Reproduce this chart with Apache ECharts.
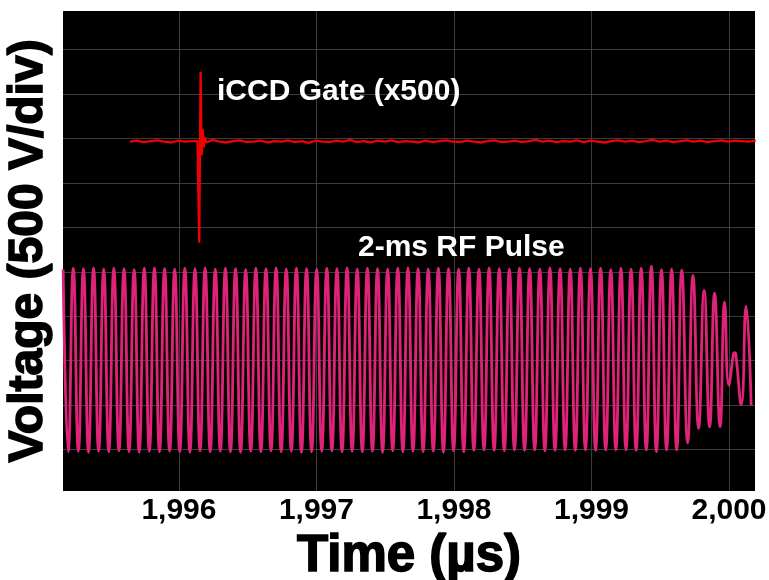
<!DOCTYPE html>
<html>
<head>
<meta charset="utf-8">
<script src="https://cdn.jsdelivr.net/npm/echarts@6/dist/echarts.min.js"></script>
<style>html,body{margin:0;padding:0;background:#fff}#c{width:769px;height:580px}</style>
</head>
<body>
<div id="c"></div>
<script>
// ---- tick values / labels ----
const xTickValues = [1996, 1997, 1998, 1999, 2000];          // µs
const yDivisions = [-2, -1, 0, 1, 2, 3, 4, 5, 6, 7];          // scope divisions (500 V/div)

// ---- RF pulse: successive extremes (peak, trough, ...) in divisions ----
const rfStartTime = 1995.158;   // µs, first peak (left edge)
const rfHalfPeriod = 0.036873;  // µs, half period of 13.56 MHz
const rfLevels = [
  2.06,-2.05,2.08,-2.04,2.07,-2.06,2.09,-2.04,2.06,-2.05,2.08,-2.03,2.07,-2.05,2.05,-2.06,2.08,-2.04,2.09,-2.05,
  2.07,-2.04,2.06,-2.05,2.08,-2.06,2.07,-2.03,2.09,-2.05,2.06,-2.04,2.08,-2.05,2.07,-2.06,2.05,-2.04,2.08,-2.05,
  2.07,-2.03,2.09,-2.05,2.06,-2.04,2.08,-2.06,2.07,-2.05,2.06,-2.04,2.08,-2.03,2.07,-2.05,2.09,-2.04,2.06,-2.05,
  2.08,-2.04,2.07,-2.06,2.06,-2.03,2.08,-2.05,2.09,-2.04,2.07,-2.05,2.06,-2.04,2.08,-2.06,2.07,-2.03,2.06,-2.05,
  2.08,-2.02,2.06,-2.01,2.09,-2.02,2.07,-2.03,2.06,-2.01,2.08,-2.02,2.07,-2.01,2.06,-2.03,2.09,-2.02,2.07,-2.01,
  2.06,-2.02,2.08,-2.01,2.07,-2.02,2.08,-2.01,2.05,-2.01,2.08,-2.01,2.06,-2.02,2.08,-2.01,2.13,-2.05,2.05,-2.01,
  2.06,-2.01,2.04
];
// ---- RF pulse end (decay and ringing) ----
const rfTailTime = [1999.699, 1999.738, 1999.779, 1999.819, 1999.859, 1999.895, 1999.935, 1999.968, 1999.999, 2000.033, 2000.041, 2000.049, 2000.089, 2000.124, 2000.161];
const rfTailVolt = [-1.85, 1.92, -1.52, 1.58, -1.49, 1.52, -1.49, 1.32, -0.55, 0.16, 0.18, 0.15, -0.99, 1.23, -1.01];

// ---- iCCD gate (x500) ----
const gateStart = 1995.644;  // µs
const gateStep = 0.05;       // µs between baseline samples
const gateBaseline = [
  4.93,4.95,4.92,4.94,4.96,4.93,4.91,4.95,4.93,4.94,
  4.92,4.95,4.97,4.93,4.91,4.94,4.96,4.92,4.93,4.95,
  4.91,4.94,4.93,4.96,4.92,4.94,4.90,4.95,4.93,4.92,
  4.95,4.93,4.97,4.92,4.94,4.91,4.95,4.93,4.96,4.92,
  4.94,4.93,4.91,4.95,4.92,4.94,4.96,4.93,4.92,4.95,
  4.93,4.91,4.94,4.96,4.92,4.93,4.95,4.92,4.94,4.97,
  4.93,4.95,4.92,4.94,4.93,4.96,4.92,4.95,4.93,4.91,
  4.94,4.96,4.93,4.95,4.92,4.94,4.97,4.93,4.95,4.92,
  4.94,4.96,4.93,4.95,4.92,4.94,4.96,4.93,4.95,4.94,
  4.93,4.95
];
const gateSpikeTime = [1996.135, 1996.1475, 1996.1575, 1996.165, 1996.172, 1996.180, 1996.189, 1996.200];
const gateSpikeVolt = [4.94, 2.655, 6.50, 4.62, 5.22, 4.80, 5.03, 4.91];

// ---- build series data ----
const rfData = rfLevels.map((v, i) => [rfStartTime + i * rfHalfPeriod, v]);
rfTailTime.forEach((t, i) => rfData.push([t, rfTailVolt[i]]));

let gateData = gateBaseline.map((v, i) => [gateStart + i * gateStep, v])
  .filter(p => p[0] < gateSpikeTime[0] || p[0] > gateSpikeTime[gateSpikeTime.length - 1]);
gateSpikeTime.forEach((t, i) => gateData.push([t, gateSpikeVolt[i]]));
gateData.sort((a, b) => a[0] - b[0]);

const fmtThousands = v => String(v).replace(/\B(?=(\d{3})+(?!\d))/g, ',');
const FONT = 'Liberation Sans, Arial, sans-serif';

const chart = echarts.init(document.getElementById('c'));
chart.setOption({
  animation: false,
  backgroundColor: '#fff',
  grid: { left: 63, right: 14, top: 11, bottom: 89, show: true, backgroundColor: '#000', borderWidth: 0, outerBoundsMode: 'none', containLabel: false },
  xAxis: {
    type: 'value', min: 1995.157, max: 2000.189,
    axisLine: { show: false },
    axisTick: { show: false, customValues: xTickValues },
    axisLabel: { customValues: xTickValues, formatter: fmtThousands, color: '#000', fontFamily: FONT, fontWeight: 'bold', fontSize: 30, margin: 5 },
    splitLine: { show: true, lineStyle: { color: '#3c3c3c', width: 1 } },
    name: 'Time (µs)', nameLocation: 'middle', nameGap: 31,
    nameTextStyle: { color: '#000', fontFamily: FONT, fontWeight: 'bold', fontSize: 51, textBorderColor: '#000', textBorderWidth: 1.6 }
  },
  yAxis: {
    type: 'value', min: -2.932, max: 7.869,
    axisLine: { show: false },
    axisTick: { show: false, customValues: yDivisions },
    axisLabel: { show: false, customValues: yDivisions },
    splitLine: { show: true, lineStyle: { color: '#3c3c3c', width: 1 } },
    name: 'Voltage (500 V/div)', nameLocation: 'middle', nameGap: 10,
    nameTextStyle: { color: '#000', fontFamily: FONT, fontWeight: 'bold', fontSize: 48, textBorderColor: '#000', textBorderWidth: 1.6 }
  },
  series: [
    {
      name: '2-ms RF Pulse', type: 'line', data: rfData, showSymbol: false, smooth: 0.5,
      lineStyle: { color: '#de2378', width: 2.8 }, clip: true
    },
    {
      name: 'iCCD Gate (x500)', type: 'line', data: gateData, showSymbol: false,
      lineStyle: { color: '#f00000', width: 2.3 }, clip: true
    }
  ],
  graphic: [
    { type: 'text', z: 100, x: 217, y: 92, style: { text: 'iCCD Gate (x500)', fill: '#fff', font: 'bold 30px ' + FONT, verticalAlign: 'middle' } },
    { type: 'text', z: 100, x: 358, y: 248, style: { text: '2-ms RF Pulse', fill: '#fff', font: 'bold 30px ' + FONT, verticalAlign: 'middle' } }
  ]
});
</script>
</body>
</html>
